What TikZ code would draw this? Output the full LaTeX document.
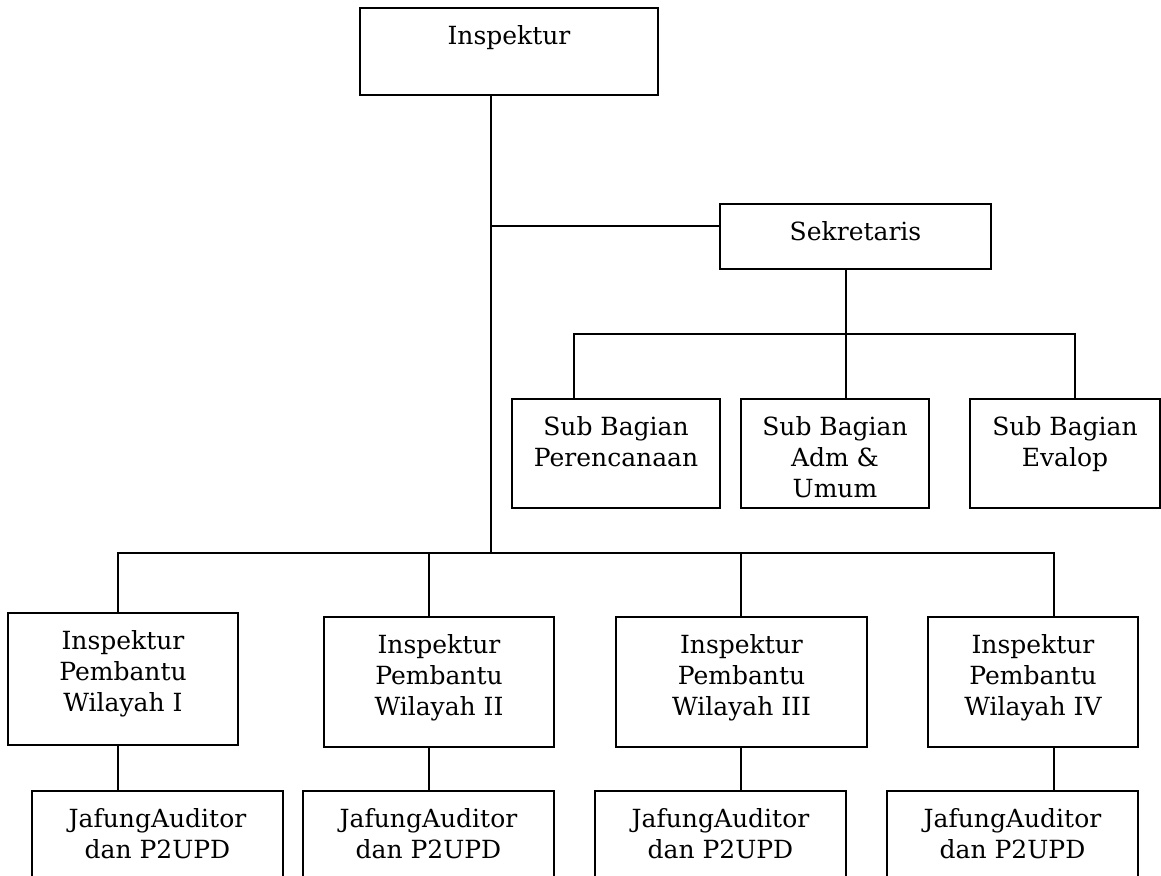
\documentclass[tikz,border=0pt]{standalone}
\usepackage{fontspec}
\setmainfont{DejaVu Serif}

\newlength{\pxu}
\setlength{\pxu}{0.5pt}
% box content: width, height (in px), text at the top
\newcommand{\boxtext}[3]{\parbox[c][#2\pxu][t]{#1\pxu}{\centering\vspace*{7.5pt}\strut#3}}

\tikzset{
    orgbox/.style={draw, line width=1pt, inner sep=0pt, fill=white,
        font=\fontsize{12.5}{15.5}\selectfont},
}

\begin{document}
\begin{tikzpicture}[x=0.5pt, y=-0.5pt, line width=1pt]
    \clip (0,0) rectangle (1161,875);

    % top
    \node[orgbox] (insp) at (509,51.5) {\boxtext{298}{87}{Inspektur}};
    \node[orgbox] (sekr) at (855.5,236.5) {\boxtext{271}{65}{Sekretaris}};

    % sub bagian
    \node[orgbox] (subplan) at (616,453.5) {\boxtext{208}{109}{Sub Bagian\\Perencanaan}};
    \node[orgbox] (subadm) at (835,453.5) {\boxtext{188}{109}{Sub Bagian\\Adm \&\\Umum}};
    \node[orgbox] (subeval) at (1065,453.5) {\boxtext{190}{109}{Sub Bagian\\Evalop}};

    % inspektur pembantu
    \node[orgbox] (irban1) at (123,679) {\boxtext{230}{132}{Inspektur\\Pembantu\\Wilayah I}};
    \node[orgbox] (irban2) at (439,682) {\boxtext{230}{130}{Inspektur\\Pembantu\\Wilayah II}};
    \node[orgbox] (irban3) at (741.5,682) {\boxtext{251}{130}{Inspektur\\Pembantu\\Wilayah III}};
    \node[orgbox] (irban4) at (1033,682) {\boxtext{210}{130}{Inspektur\\Pembantu\\Wilayah IV}};

    % jafung
    \node[orgbox] (jaf1) at (157.5,841) {\boxtext{251}{100}{JafungAuditor\\dan P2UPD}};
    \node[orgbox] (jaf2) at (428.5,841) {\boxtext{251}{100}{JafungAuditor\\dan P2UPD}};
    \node[orgbox] (jaf3) at (720.5,841) {\boxtext{251}{100}{JafungAuditor\\dan P2UPD}};
    \node[orgbox] (jaf4) at (1012.5,841) {\boxtext{251}{100}{JafungAuditor\\dan P2UPD}};

    % junctions
    \coordinate (jsekr) at (491,226);
    \coordinate (jbus) at (491,553);
    \coordinate (jsub) at (846,334);
    \coordinate (dplan) at (574,334);
    \coordinate (deval) at (1075,334);
    \coordinate (d1) at (118,553);
    \coordinate (d2) at (429,553);
    \coordinate (d3) at (741,553);
    \coordinate (d4) at (1054,553);

    % trunk
    \draw (insp.south -| jbus) -- (jbus);
    \draw (jsekr) -- (jsekr -| sekr.west);

    % sekretaris to sub bagian
    \draw (sekr.south -| jsub) -- (jsub);
    \draw (dplan |- subplan.north) -- (dplan) -- (deval) -- (deval |- subeval.north);
    \draw (jsub) -- (jsub |- subadm.north);

    % bus to inspektur pembantu
    \draw (d1 |- irban1.north) -- (d1) -- (d4) -- (d4 |- irban4.north);
    \draw (d2) -- (d2 |- irban2.north);
    \draw (d3) -- (d3 |- irban3.north);

    % inspektur pembantu to jafung
    \draw (irban1.south -| d1) -- (d1 |- jaf1.north);
    \draw (irban2.south -| d2) -- (d2 |- jaf2.north);
    \draw (irban3.south -| d3) -- (d3 |- jaf3.north);
    \draw (irban4.south -| d4) -- (d4 |- jaf4.north);
\end{tikzpicture}
\end{document}
